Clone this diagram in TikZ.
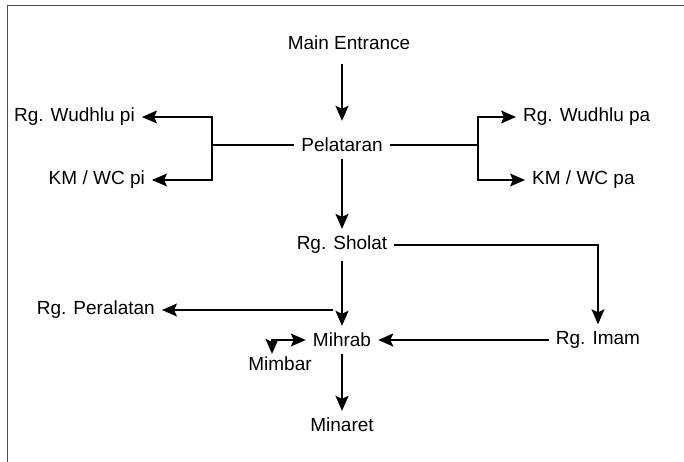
\documentclass[tikz,border=0pt]{standalone}
\usepackage{fontspec}
\setmainfont{Liberation Sans}
\usetikzlibrary{arrows.meta,positioning}
\tikzset{>={Stealth[length=15pt,width=13pt,inset=3pt]}}
\tikzset{
  room/.style={font=\fontsize{19}{22}\selectfont, inner sep=7pt},
  flow/.style={->, line width=2.2pt},
  branch/.style={line width=1.4pt},
  frame/.style={line width=0.8pt, black!70},
}

\begin{document}
\begin{tikzpicture}[x=1pt,y=1pt]
\useasboundingbox (0,0) rectangle (684,462);
\draw[frame] (684,457) -- (7,457) -- (7,0);

% rooms
\node[room] (entr) at (349,419) {Main Entrance};
\node[room] (pelat) at (342,317) {Pelataran};
\node[room, anchor=east] (wpi) at (142,345) {Rg. Wudhlu pi};
\node[room, anchor=east] (kmpi) at (152,282) {KM / WC pi};
\node[room, anchor=west] (wpa) at (516,345) {Rg. Wudhlu pa};
\node[room, anchor=west] (kmpa) at (525,282) {KM / WC pa};
\node[room] (sholat) at (342,217) {Rg. Sholat};
\node[room, anchor=east] (peral) at (162,152) {Rg. Peralatan};
\node[room] (imam) at (598,122) {Rg. Imam};
\node[room] (mihrab) at (342,122) {Mihrab};
\node[room, inner sep=3pt] (mimbar) at (280,98) {Mimbar};
\node[room] (minaret) at (342,37) {Minaret};

% split points
\coordinate (lsplit) at (212,317);
\coordinate (rsplit) at (478,317);
\coordinate (pbranch) at (333,152);
\coordinate (mcorner) at (272,122);

% main path
\draw[flow, shorten <=7pt, shorten >=10pt] (entr.south -| pelat) -- (pelat.north);
\draw[flow] (pelat.south) -- (sholat.north);
\draw[flow] (sholat.south) -- (mihrab.north);
\draw[flow] (mihrab.south) -- (minaret.north);

% wudhlu and toilets
\draw[branch] (pelat.west) -- (lsplit);
\draw[branch] (pelat.east) -- (rsplit);
\draw[branch,->] (lsplit) |- (wpi.east);
\draw[branch,->] (lsplit) |- (kmpi.east);
\draw[branch,->] (rsplit) |- (wpa.west);
\draw[branch,->] (rsplit) |- (kmpa.west);

% side rooms
\draw[branch,->] (sholat.east) -| (imam.north);
\draw[branch,->] (pbranch) -- (peral.east);
\draw[flow] (imam.west) -- (mihrab.east);
\draw[branch,<->] (mihrab.west) -- (mcorner) -- (mcorner |- mimbar.north);
\end{tikzpicture}
\end{document}
